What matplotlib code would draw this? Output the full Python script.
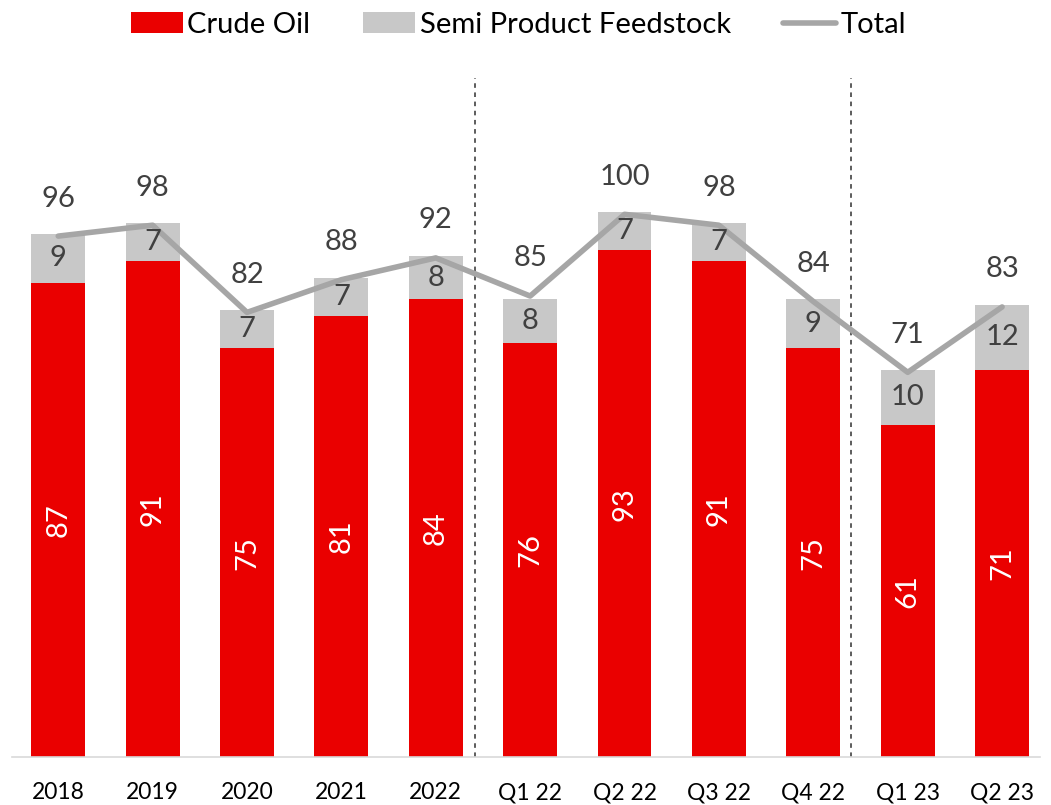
import matplotlib.pyplot as plt
import numpy as np

categories = ['2018', '2019', '2020', '2021', '2022', 'Q1 22', 'Q2 22', 'Q3 22', 'Q4 22', 'Q1 23', 'Q2 23']
crude = [87, 91, 75, 81, 84, 76, 93, 91, 75, 61, 71]
semi = [9, 7, 7, 7, 8, 8, 7, 7, 9, 10, 12]
total = [96, 98, 82, 88, 92, 85, 100, 98, 84, 71, 83]

RED = '#EA0000'
GREY = '#C8C8C8'
LINE = '#A6A6A6'

plt.rcParams['font.family'] = ['Lato', 'DejaVu Sans']

fig = plt.figure(figsize=(10.51, 8.05), dpi=100)
ax = fig.add_axes([0.0114, 0.0596, 0.978, 0.8434])

x = np.arange(len(categories))
w = 0.57
b1 = ax.bar(x, crude, w, color=RED, label='Crude Oil', zorder=2)
b2 = ax.bar(x, semi, w, bottom=crude, color=GREY, label='Semi Product Feedstock', zorder=2)
l1, = ax.plot(x, [t - 0.4 for t in total], color=LINE, lw=4, solid_capstyle='round', label='Total', zorder=3)

for i in range(len(x)):
    ax.text(x[i], crude[i] / 2, str(crude[i]), rotation=90, ha='center', va='center',
            color='white', fontsize=21, zorder=4)
    ax.text(x[i], crude[i] + semi[i] / 2, str(semi[i]), ha='center', va='center',
            color='#404040', fontsize=21, zorder=4)
    ax.text(x[i], total[i] + 6.5, str(total[i]), ha='center', va='center',
            color='#404040', fontsize=21, zorder=4)

for d in [4.42, 8.4]:
    ax.axvline(d, color='#303030', lw=1.1, ls=(0, (3, 3)), zorder=1)

ax.set_xlim(-0.49, 10.4)
ax.set_ylim(0, 124.6)
ax.set_xticks(x)
ax.set_xticklabels(categories, fontsize=16.5)
ax.tick_params(axis='x', length=0, pad=18)
ax.set_yticks([])
for s in ['top', 'right', 'left']:
    ax.spines[s].set_visible(False)
ax.spines['bottom'].set_color('#D9D9D9')
ax.spines['bottom'].set_linewidth(1.2)

fig.legend(handles=[b1, b2, l1], loc='upper center', bbox_to_anchor=(0.493, 1.018), ncol=3,
           frameon=False, fontsize=21, handlelength=1.8, handletextpad=0.15, columnspacing=1.8)

fig.savefig('out.png', dpi=100)
